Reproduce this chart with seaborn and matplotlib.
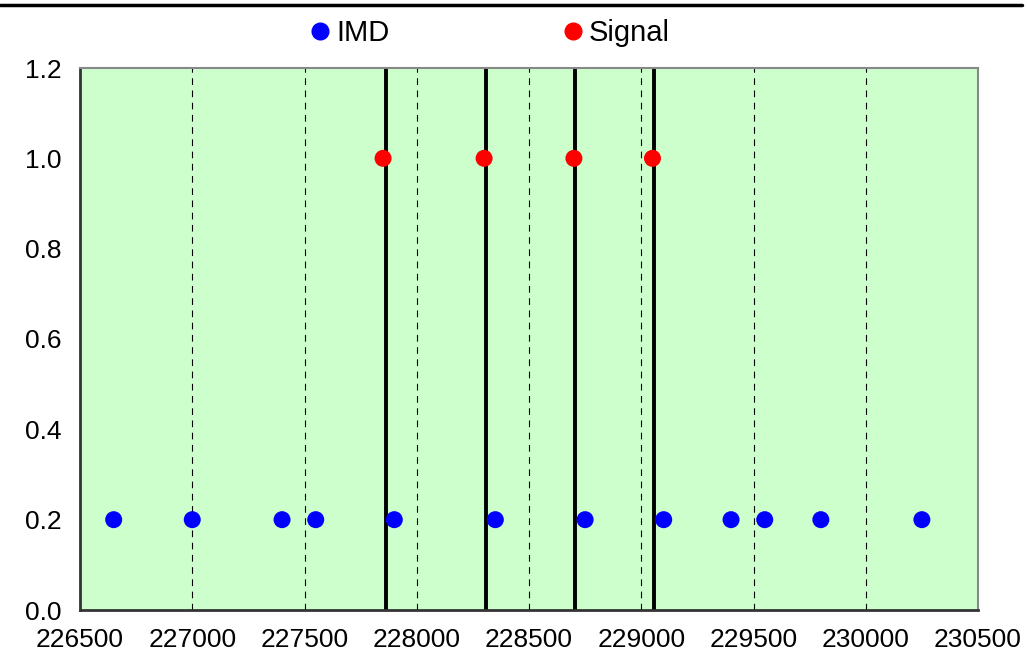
import matplotlib
matplotlib.use("Agg")
import matplotlib.pyplot as plt
from matplotlib.lines import Line2D
import seaborn as sns
import pandas as pd

# Carrier frequencies (Hz offsets) and third-order intermod products
signal_freqs = [227850, 228300, 228700, 229050]
signal_level = [1.0, 1.0, 1.0, 1.0]
imd_freqs = [226650, 227000, 227400, 227550, 227900, 228350,
             228750, 229100, 229400, 229550, 229800, 230250]
imd_level = [0.2] * 12
# Channel marker positions
channel_lines = [227862, 228308, 228706, 229058]

x_ticks = [226500, 227000, 227500, 228000, 228500, 229000, 229500, 230000, 230500]
y_ticks = [0.0, 0.2, 0.4, 0.6, 0.8, 1.0, 1.2]

sns.set_style("white")
plt.rcParams["font.family"] = ["Liberation Sans", "DejaVu Sans"]
plt.rcParams["text.color"] = "black"
plt.rcParams["xtick.color"] = "black"
plt.rcParams["ytick.color"] = "black"

fig = plt.figure(figsize=(10.27, 6.66), dpi=100)
ax = fig.add_axes([80 / 1027, 56 / 666, 898 / 1027, 542 / 666])
ax.set_facecolor("#ccffcc")

for x in x_ticks[1:-1]:
    ax.axvline(x, color="black", lw=0.8, ls=(0, (6, 5)), zorder=1)

for x in channel_lines:
    ax.axvline(x, color="black", lw=2.8, zorder=2)

imd_df = pd.DataFrame({"freq": imd_freqs, "level": imd_level, "kind": "IMD"})
sig_df = pd.DataFrame({"freq": signal_freqs, "level": signal_level, "kind": "Signal"})
df = pd.concat([imd_df, sig_df], ignore_index=True)

sns.scatterplot(data=df, x="freq", y="level", hue="kind",
                palette={"IMD": "#0000ff", "Signal": "#ff0000"},
                s=150, linewidth=0, ax=ax, zorder=3, legend=False)

ax.set_xlim(226500, 230500)
ax.set_ylim(0, 1.2)
ax.set_xticks(x_ticks)
ax.set_yticks(y_ticks)
ax.set_yticklabels([f"{v:.1f}" for v in y_ticks])
ax.set_xlabel("")
ax.set_ylabel("")
ax.tick_params(axis="x", length=0, pad=13, labelsize=19, labelcolor="black")
ax.tick_params(axis="y", direction="in", length=5, width=1, pad=13, labelsize=19,
               labelcolor="black", color="#333333")

for side in ["left", "bottom"]:
    ax.spines[side].set_color("#333333")
    ax.spines[side].set_linewidth(2)
for side in ["top", "right"]:
    ax.spines[side].set_color("#888888")
    ax.spines[side].set_linewidth(1.5)

handles = [
    Line2D([], [], marker="o", ls="", color="#0000ff", markersize=12, label="IMD"),
    Line2D([], [], marker="o", ls="", color="#ff0000", markersize=12, label="Signal"),
]
leg = fig.legend(handles=handles, loc="center", bbox_to_anchor=(0.4757, 0.950), ncol=2,
                 frameon=False, fontsize=21, handletextpad=0.1, columnspacing=5.85,
                 handlelength=0.9)
for t in leg.get_texts():
    t.set_color("black")

fig.add_artist(Line2D([0, 0.995], [0.993, 0.993], color="black", lw=2.5,
                      transform=fig.transFigure))

fig.savefig("out.png", dpi=100)
